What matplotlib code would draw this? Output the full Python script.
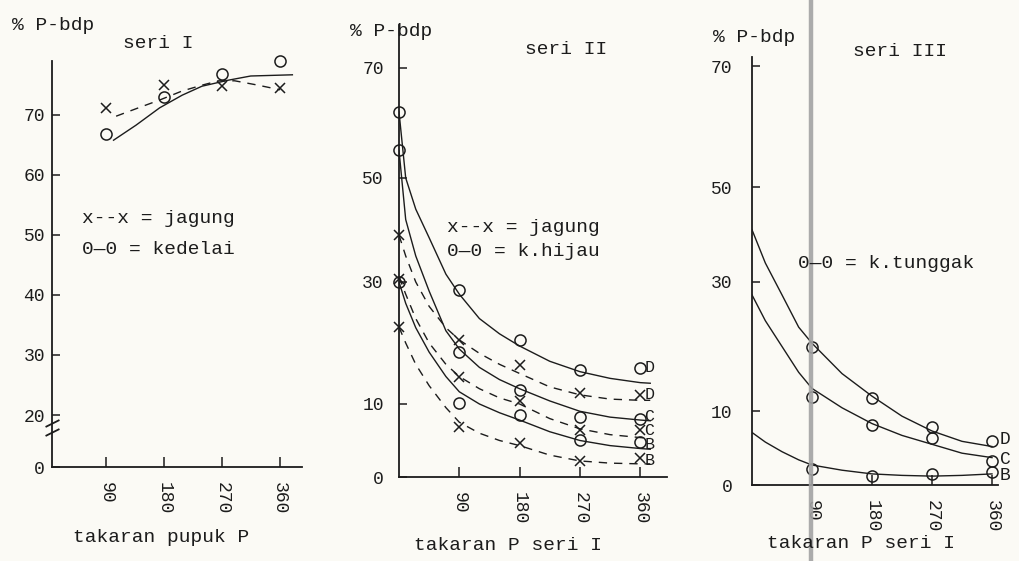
import numpy as np
import matplotlib
matplotlib.use("Agg")
import matplotlib.pyplot as plt
from matplotlib.lines import Line2D

#---- Data --------------------------------------------------------------------#

dose = [90, 180, 270, 360]
dose0 = [0, 90, 180, 270, 360]

# seri I
s1_kedelai_pts = [66.8, 73.0, 76.8, 79.0]
s1_jagung_pts = [71.2, 75.0, 74.8, 74.5]
s1_kedelai_cx = [101, 136, 173, 208, 239, 280, 315, 380]
s1_kedelai_cy = [65.8, 68.3, 71.2, 73.3, 74.8, 75.8, 76.5, 76.7]
s1_jagung_cx = [105, 140, 173, 208, 240, 265, 290, 325, 361]
s1_jagung_cy = [69.8, 71.2, 72.5, 74.0, 75.0, 75.7, 75.7, 75.0, 74.2]

# seri II  (D, C, B)
s2_hijau_pts = {"D": [62, 28.7, 20.5, 15.6, 15.9],
                "C": [55, 18.5, 12.3, 8.2, 8.0],
                "B": [30, 10.1, 8.5, 5.0, 4.8]}
s2_jagung_pts = {"D": [39, 20.5, 16.4, 11.8, 11.5],
                 "C": [30.5, 14.4, 10.5, 6.4, 6.4],
                 "B": [22.6, 6.8, 4.6, 2.2, 2.6]}
s2_cx = [0, 10, 25, 45, 70, 90, 120, 150, 180, 225, 270, 315, 360, 375]
s2_hijau_c = {"D": [62, 50, 44, 38.5, 31.5, 28, 24, 21.5, 19.5, 17, 15.3, 14.2, 13.5, 13.4],
              "C": [55, 42, 35, 28.5, 22, 19, 16, 14, 12.5, 10.5, 9, 8.2, 7.8, 7.7],
              "B": [30, 26.5, 22.5, 18.5, 14.5, 12, 10, 8.8, 7.8, 6.2, 5, 4.3, 3.9, 3.8]}
s2_jagung_c = {"D": [39, 35, 30, 26, 22.5, 20.5, 18.3, 16.5, 15, 12.8, 11.5, 10.8, 10.6, 10.6],
               "C": [31, 28, 24, 20, 16.5, 14.5, 12.5, 11, 10, 8, 6.6, 5.8, 5.4, 5.3],
               "B": [22.6, 20, 16.5, 13, 9.5, 7.5, 6, 5, 4.3, 3, 2.2, 1.9, 1.8, 1.8]}
s2_lab_o = {"D": 16.0, "C": 8.3, "B": 4.5}
s2_lab_x = {"D": 11.5, "C": 6.3, "B": 2.2}

# seri III
s3_pts = {"D": [19.9, 12.0, 7.8, 6.0],
          "C": [12.2, 8.1, 6.3, 3.3],
          "B": [2.2, 1.2, 1.5, 1.8]}
s3_cx = [0, 20, 45, 70, 90, 135, 180, 225, 270, 315, 360]
s3_c = {"D": [41, 34, 28, 23, 20.5, 15.8, 12.3, 9.3, 7.3, 5.9, 5.2],
        "C": [28, 24, 20, 16, 13.5, 10.5, 8.3, 6.7, 5.5, 4.3, 3.7],
        "B": [7.1, 5.8, 4.5, 3.4, 2.7, 2.0, 1.5, 1.3, 1.2, 1.3, 1.5]}
s3_lab = {"D": 6.2, "C": 3.5, "B": 1.3}

#---- Style -------------------------------------------------------------------#

W, H = 1019, 561
INK = "#1c1c1c"
BG = "#fbfaf5"
FONT = "Liberation Mono"
FS = 14
plt.rcParams["font.family"] = [FONT, "DejaVu Sans Mono"]

fig = plt.figure(figsize=(W / 100, H / 100), dpi=100, facecolor=BG)


def hand_scale(kv, kp):
    # piecewise-linear y axis, as drawn by hand on the original
    return (lambda v: np.interp(v, kv, kp), lambda p: np.interp(p, kp, kv))


def make_ax(left, bottom, width, height, xlim, ylim, scale, yticks, ypad):
    ax = fig.add_axes([left / W, (H - bottom) / H, width / W, height / H])
    ax.patch.set_alpha(0)
    ax.set_yscale("function", functions=scale)
    ax.set_xlim(*xlim)
    ax.set_ylim(*ylim)
    for s in ["top", "right"]:
        ax.spines[s].set_visible(False)
    for s in ["left", "bottom"]:
        ax.spines[s].set_color(INK)
        ax.spines[s].set_linewidth(1.3)
    ax.set_xticks(dose)
    ax.set_xticklabels([str(d) for d in dose], rotation=-90, fontsize=FS - 1,
                       color=INK)
    ax.set_yticks(yticks)
    ax.set_yticklabels([str(t) for t in yticks], fontsize=FS - 1, color=INK)
    ax.minorticks_off()
    ax.tick_params(axis="x", direction="in", length=7, width=1.1, pad=11,
                   color=INK)
    ax.tick_params(axis="y", direction="in", length=6, width=1.1, pad=ypad,
                   color=INK)
    return ax


def ftext(px, py, s, ha="left", **kw):
    fig.text(px / W, 1 - py / H, s, ha=ha, va="center", fontsize=FS,
             color=INK, **kw)


solid = dict(color=INK, lw=1.0, solid_joinstyle="round")
dashed = dict(color=INK, lw=1.0, ls=(0, (6, 5)))
omark = dict(ls="none", marker="o", ms=8, mfc="none", mec=INK, mew=1.1,
             clip_on=False)
xmark = dict(ls="none", marker="x", ms=7, mec=INK, mew=1.1, clip_on=False)

#---- seri I ------------------------------------------------------------------#

ax1 = make_ax(52, 467, 250, 406, (5, 395), (0, 79),
              hand_scale([-10, 0, 20, 100], [-26, 0, 52, 532]),
              [0, 20, 30, 40, 50, 60, 70], 5)
ax1.plot(s1_kedelai_cx, s1_kedelai_cy, **solid)
ax1.plot(s1_jagung_cx, s1_jagung_cy, **dashed)
ax1.plot(dose, s1_kedelai_pts, **omark)
ax1.plot(dose, s1_jagung_pts, **xmark)
# axis break
ax1.plot([0, 0], [0.085, 0.108], transform=ax1.transAxes, ls="none",
         marker=[(-1, -0.5), (1, 0.5)], ms=10, mec=INK, mew=1.3, clip_on=False)

ftext(12, 25, "% P-bdp")
ftext(158, 43, "seri I", ha="center")
ftext(82, 218, "x--x = jagung")
ftext(82, 250, "0\u20140 = kedelai")
ftext(161, 537, "takaran pupuk P", ha="center")

#---- seri II -----------------------------------------------------------------#

ax2 = make_ax(399, 477, 268, 452, (0, 400), (0, 77.8),
              hand_scale([-10, 0, 10, 30, 50, 70, 100],
                         [-73, 0, 73, 195, 299, 409, 574]),
              [0, 10, 30, 50, 70], 11)
for k in ["D", "C", "B"]:
    ax2.plot(s2_cx, s2_hijau_c[k], **solid)
    ax2.plot(s2_cx, s2_jagung_c[k], **dashed)
    ax2.plot(dose0, s2_hijau_pts[k], **omark)
    ax2.plot(dose0, s2_jagung_pts[k], **xmark)
    ax2.text(366, s2_lab_o[k], k, fontsize=FS - 2, color=INK, va="center")
    ax2.text(366, s2_lab_x[k], k, fontsize=FS - 2, color=INK, va="center")

ftext(350, 32, "% P-bdp")
ftext(566, 50, "seri II", ha="center")
ftext(447, 227, "x--x = jagung")
ftext(447, 252, "0\u20140 = k.hijau")
ftext(508, 545, "takaran P seri I", ha="center")

#---- seri III ----------------------------------------------------------------#

ax3 = make_ax(752, 485, 246, 428, (0, 369), (0, 71.5),
              hand_scale([-10, 0, 10, 30, 50, 70, 100],
                         [-74, 0, 74, 203, 298, 419, 599]),
              [0, 10, 30, 50, 70], 14)
for k in ["D", "C", "B"]:
    ax3.plot(s3_cx, s3_c[k], **solid)
    ax3.plot(dose, s3_pts[k], **omark)
    ax3.text(372, s3_lab[k], k, fontsize=FS - 1, color=INK, va="center",
             clip_on=False)

ftext(713, 37, "% P-bdp")
ftext(900, 52, "seri III", ha="center")
ftext(798, 263, "0\u20140 = k.tunggak")
ftext(861, 543, "takaran P seri I", ha="center")

# binding shadow of the scan
fig.add_artist(Line2D([811 / W, 811 / W], [0, 1], color="#a3a3a3", lw=3.2,
                      alpha=0.9))

fig.savefig("out.png", dpi=100, facecolor=BG)
